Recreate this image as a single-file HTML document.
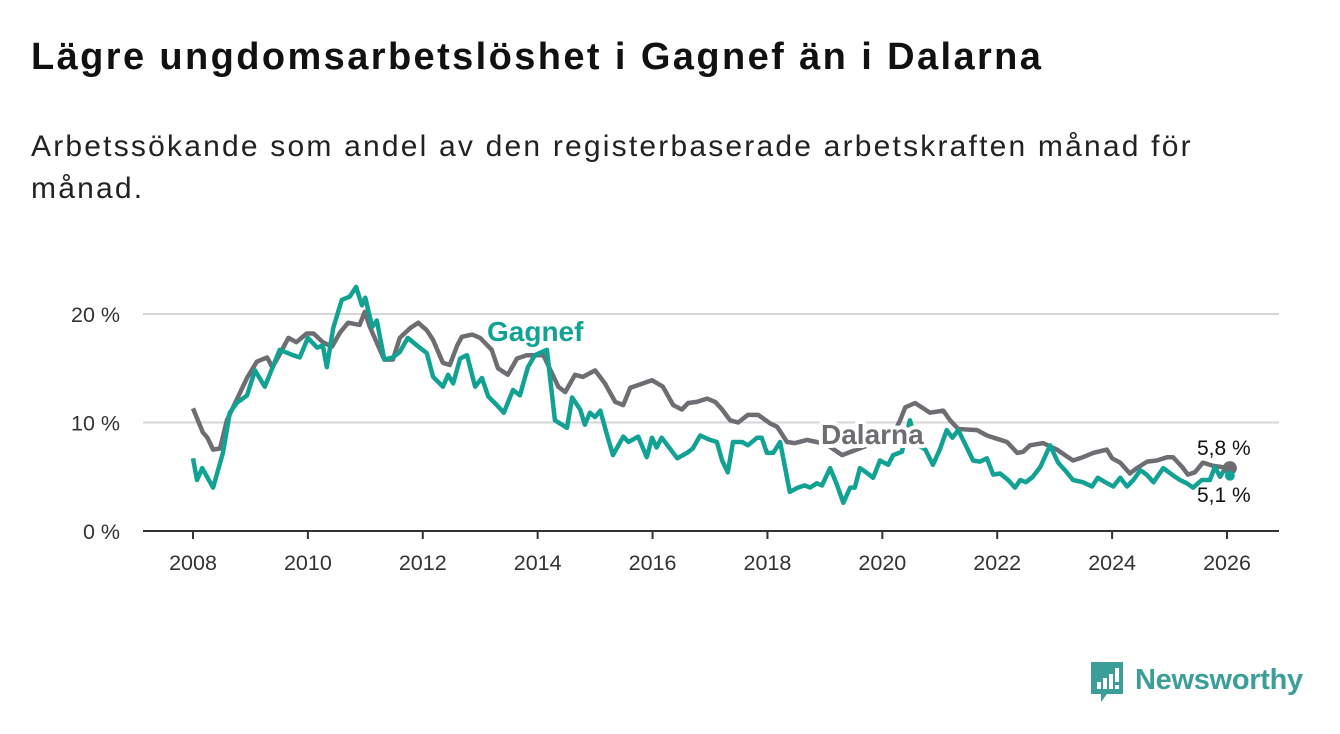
<!DOCTYPE html>
<html><head><meta charset="utf-8"><style>
body{margin:0;width:1340px;height:734px;background:#fff;font-family:"Liberation Sans","DejaVu Sans",sans-serif;overflow:hidden;position:relative}
h1{position:absolute;left:31px;top:36px;margin:0;font-size:38px;letter-spacing:2.4px;font-weight:bold;color:#111;white-space:nowrap}
.sub{position:absolute;left:31px;top:126px;width:1200px;font-size:30px;letter-spacing:2.2px;line-height:42px;color:#222}
svg{position:absolute;left:0;top:0}
</style></head><body>
<h1>Lägre ungdomsarbetslöshet i Gagnef än i Dalarna</h1>
<div class="sub">Arbetssökande som andel av den registerbaserade arbetskraften månad för månad.</div>
<svg id="chart" width="1340" height="734"></svg>
<script>
const xTicks=[2008,2010,2012,2014,2016,2018,2020,2022,2024,2026];
const yTicks=[0,10,20];
const dalYears=[2008,2008.17,2008.25,2008.35,2008.47,2008.59,2008.76,2008.94,2009.11,2009.29,2009.38,2009.5,2009.66,2009.8,2009.98,2010.1,2010.26,2010.42,2010.56,2010.7,2010.9,2010.99,2011.08,2011.22,2011.33,2011.48,2011.6,2011.78,2011.92,2012.07,2012.18,2012.35,2012.47,2012.6,2012.68,2012.86,2013,2013.2,2013.31,2013.48,2013.64,2013.81,2014.1,2014.36,2014.48,2014.65,2014.79,2015,2015.17,2015.35,2015.49,2015.61,2015.78,2015.99,2016.18,2016.36,2016.51,2016.62,2016.77,2016.95,2017.09,2017.21,2017.35,2017.49,2017.66,2017.84,2018.05,2018.17,2018.34,2018.48,2018.69,2018.86,2019.05,2019.3,2019.6,2019.9,2020.2,2020.31,2020.4,2020.57,2020.83,2021.06,2021.18,2021.32,2021.65,2021.82,2022,2022.17,2022.35,2022.45,2022.57,2022.8,2023.04,2023.18,2023.32,2023.49,2023.67,2023.91,2024,2024.14,2024.31,2024.43,2024.61,2024.78,2024.96,2025.06,2025.22,2025.32,2025.44,2025.58,2025.76,2026.05];
const dalValues=[11.3,9.1,8.6,7.5,7.6,10.2,12.1,14.1,15.6,16,15.1,16.2,17.8,17.4,18.2,18.2,17.4,17,18.3,19.2,19,20.2,18.8,17.1,15.8,15.8,17.8,18.7,19.2,18.5,17.6,15.5,15.3,17.1,17.9,18.1,17.8,16.7,15,14.4,15.9,16.2,16.2,13.3,12.8,14.4,14.2,14.8,13.6,11.9,11.6,13.2,13.5,13.9,13.3,11.6,11.2,11.8,11.9,12.2,11.9,11.2,10.2,10,10.7,10.7,9.9,9.6,8.2,8.1,8.4,8.2,7.9,7,7.6,8.2,9,10.2,11.4,11.8,10.9,11.1,10.2,9.4,9.3,8.8,8.5,8.2,7.2,7.3,7.9,8.1,7.5,7,6.5,6.8,7.2,7.5,6.7,6.3,5.3,5.8,6.4,6.5,6.8,6.8,5.9,5.2,5.4,6.3,6,5.8];
const gagYears=[2008,2008.07,2008.16,2008.35,2008.52,2008.64,2008.76,2008.94,2009.08,2009.25,2009.51,2009.74,2009.86,2010,2010.16,2010.26,2010.33,2010.44,2010.59,2010.73,2010.84,2010.94,2011,2011.12,2011.2,2011.33,2011.48,2011.6,2011.74,2011.9,2012.07,2012.18,2012.35,2012.44,2012.53,2012.65,2012.77,2012.91,2013.03,2013.14,2013.29,2013.41,2013.57,2013.69,2013.83,2013.95,2014.16,2014.3,2014.51,2014.6,2014.74,2014.82,2014.91,2015,2015.09,2015.2,2015.31,2015.49,2015.58,2015.75,2015.9,2015.99,2016.07,2016.16,2016.43,2016.6,2016.7,2016.83,2017,2017.12,2017.21,2017.31,2017.4,2017.56,2017.66,2017.82,2017.9,2017.99,2018.1,2018.22,2018.39,2018.53,2018.65,2018.74,2018.86,2018.95,2019.09,2019.2,2019.32,2019.44,2019.52,2019.61,2019.72,2019.84,2019.96,2020.1,2020.19,2020.34,2020.48,2020.6,2020.75,2020.88,2021,2021.12,2021.22,2021.32,2021.47,2021.58,2021.7,2021.82,2021.93,2022.05,2022.19,2022.31,2022.4,2022.5,2022.62,2022.75,2022.92,2023.06,2023.18,2023.32,2023.49,2023.65,2023.75,2023.88,2024.02,2024.14,2024.26,2024.37,2024.49,2024.6,2024.72,2024.89,2025.04,2025.18,2025.3,2025.41,2025.56,2025.7,2025.79,2025.88,2025.97,2026.05];
const gagValues=[6.7,4.7,5.8,4,7.2,10.9,11.8,12.5,14.8,13.3,16.7,16.2,16,17.8,16.9,17.1,15.1,18.7,21.3,21.6,22.5,20.8,21.5,18.8,19.4,15.8,16,16.5,17.8,17.1,16.4,14.2,13.3,14.4,13.6,15.9,16.2,13.3,14.1,12.4,11.6,10.9,13,12.5,15.1,16.2,16.7,10.2,9.5,12.3,11.2,9.8,10.9,10.5,11.1,9,7,8.7,8.2,8.7,6.8,8.6,7.7,8.6,6.7,7.2,7.6,8.8,8.4,8.2,6.5,5.4,8.2,8.2,7.9,8.6,8.6,7.2,7.2,8.2,3.6,4,4.2,4,4.4,4.2,5.8,4.4,2.6,4,4,5.8,5.4,4.9,6.5,6.1,7,7.3,10.2,8,7.5,6.1,7.5,9.3,8.6,9.3,7.7,6.5,6.4,6.7,5.2,5.3,4.7,4,4.7,4.5,5,5.9,7.9,6.3,5.6,4.7,4.5,4.1,4.9,4.5,4.1,4.9,4.1,4.7,5.6,5.2,4.5,5.8,5.2,4.7,4.4,4,4.7,4.7,5.9,5,5.8,5.1];
const X0=193,XS=(1227-193)/18,Y0=531,YS=10.85;
const xs=v=>X0+(v-2008)*XS, ys=v=>Y0-v*YS;
const svg=document.getElementById('chart'),NS='http://www.w3.org/2000/svg';
function mk(t,a,p){const e=document.createElementNS(NS,t);for(const k in a)e.setAttribute(k,a[k]);(p||svg).appendChild(e);return e;}
yTicks.forEach(v=>{
 if(v>0){const g=mk('line',{x1:143,x2:1279,y1:ys(v),y2:ys(v),stroke:'#d6d6d6','stroke-width':2});
 
 }
 const t=mk('text',{x:120,y:ys(v)+8,'text-anchor':'end','font-size':21.5,fill:'#333'});t.textContent=v+' %';
 
 
});
const ax=mk('line',{x1:143,x2:1279,y1:Y0,y2:Y0,stroke:'#333','stroke-width':2});


xTicks.forEach(v=>{
 const l=mk('line',{x1:xs(v),x2:xs(v),y1:Y0,y2:Y0+8,stroke:'#333','stroke-width':2});
 
 
 const t=mk('text',{x:xs(v),y:Y0+39,'text-anchor':'middle','font-size':21.5,fill:'#333'});t.textContent=v;
 
 
});
function line(xv,yv,c,name){
 const d=xv.map((x,i)=>(i?'L':'M')+xs(x).toFixed(1)+','+ys(yv[i]).toFixed(1)).join('');
 const p=mk('path',{d:d,fill:'none',stroke:c,'stroke-width':4.5,'stroke-linejoin':'round'});
 
 
}
line(dalYears,dalValues,'#6e6d72','dalarna-line');
line(gagYears,gagValues,'#12a293','gagnef-line');
const d1=mk('circle',{cx:xs(dalYears[dalYears.length-1]),cy:ys(dalValues[dalValues.length-1]),r:7,fill:'#6e6d72'});


const d2=mk('circle',{cx:xs(gagYears[gagYears.length-1]),cy:ys(gagValues[gagValues.length-1]),r:5,fill:'#12a293'});


function lab(x,y,txt,c,name,bold,sz){
 const t=mk('text',{x:x,y:y,'font-size':sz,'font-weight':bold?'bold':'normal',fill:c,stroke:'#fff','stroke-width':bold?8:0,'paint-order':'stroke','stroke-linejoin':'round'});
 t.textContent=txt;
 
 
}
lab(487,341,'Gagnef','#12a293','gagnef-label',true,28);
lab(821,444,'Dalarna','#6e6d72','dalarna-label',true,28);
lab(1197,455,'5,8 %','#111','dalarna-end-value',false,21);
lab(1197,502,'5,1 %','#111','gagnef-end-value',false,21);
</script>
<div style="position:absolute;left:1089px;top:662px;height:42px;display:flex;align-items:center">
 <svg width="36" height="42" style="position:static"><path d="M2 0H34V32H18L12 40V32H2Z" fill="#3c9e98"/><rect x="8" y="20" width="4" height="7" fill="#fff"/><rect x="14" y="16" width="4" height="11" fill="#fff"/><rect x="20" y="12" width="4" height="15" fill="#fff"/><rect x="26" y="6" width="4" height="14" fill="#fff"/><rect x="26" y="23" width="4" height="4" fill="#fff"/></svg>
 <span style="margin-left:10px;font-size:29px;color:#3c9e98;font-weight:bold;letter-spacing:-0.3px;position:relative;top:-3px">Newsworthy</span>
</div>
</body></html>
